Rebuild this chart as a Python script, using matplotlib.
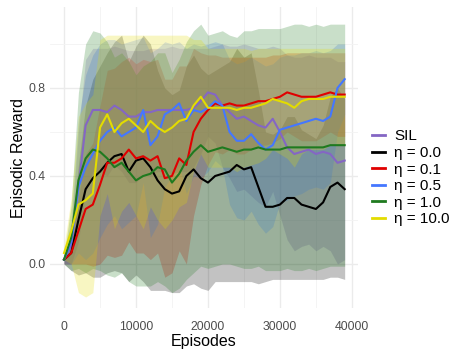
import numpy as np
import matplotlib
matplotlib.use('Agg')
import matplotlib.pyplot as plt
from matplotlib.lines import Line2D
from matplotlib.ticker import MultipleLocator

plt.rcParams['font.family'] = ['Liberation Sans', 'DejaVu Sans']

episodes = np.arange(0, 40000, 1000)

# mean episodic reward, read every 1000 episodes
sil = [0.02, 0.08, 0.35, 0.63, 0.70, 0.70, 0.69, 0.72, 0.70, 0.67,
       0.67, 0.69, 0.69, 0.70, 0.70, 0.70, 0.70, 0.70, 0.71, 0.74,
       0.78, 0.77, 0.72, 0.69, 0.66, 0.67, 0.65, 0.63, 0.62, 0.66,
       0.60, 0.53, 0.50, 0.51, 0.52, 0.50, 0.51, 0.50, 0.46, 0.47]
eta_00 = [0.02, 0.05, 0.20, 0.34, 0.39, 0.42, 0.46, 0.49, 0.50, 0.42,
          0.47, 0.48, 0.44, 0.38, 0.34, 0.32, 0.33, 0.40, 0.43, 0.39,
          0.37, 0.40, 0.41, 0.42, 0.45, 0.43, 0.44, 0.35, 0.26, 0.26,
          0.27, 0.30, 0.30, 0.27, 0.26, 0.25, 0.28, 0.35, 0.37, 0.34]
eta_01 = [0.02, 0.05, 0.15, 0.25, 0.27, 0.36, 0.46, 0.46, 0.48, 0.52,
          0.48, 0.49, 0.47, 0.49, 0.39, 0.40, 0.48, 0.45, 0.60, 0.66,
          0.70, 0.73, 0.72, 0.73, 0.72, 0.72, 0.73, 0.74, 0.74, 0.75,
          0.76, 0.78, 0.77, 0.76, 0.76, 0.76, 0.77, 0.78, 0.77, 0.77]
eta_05 = [0.02, 0.10, 0.35, 0.44, 0.50, 0.56, 0.60, 0.62, 0.58, 0.60,
          0.62, 0.70, 0.54, 0.58, 0.68, 0.70, 0.73, 0.65, 0.70, 0.69,
          0.71, 0.74, 0.72, 0.60, 0.56, 0.56, 0.59, 0.55, 0.52, 0.54,
          0.61, 0.62, 0.63, 0.64, 0.65, 0.66, 0.65, 0.67, 0.80, 0.84]
eta_10 = [0.02, 0.12, 0.38, 0.48, 0.52, 0.51, 0.48, 0.44, 0.46, 0.42,
          0.38, 0.40, 0.41, 0.44, 0.43, 0.37, 0.41, 0.47, 0.51, 0.54,
          0.51, 0.52, 0.53, 0.52, 0.51, 0.52, 0.52, 0.53, 0.52, 0.52,
          0.52, 0.53, 0.53, 0.53, 0.53, 0.53, 0.53, 0.54, 0.54, 0.54]
eta_100 = [0.05, 0.15, 0.27, 0.29, 0.32, 0.62, 0.68, 0.60, 0.64, 0.66,
           0.63, 0.60, 0.65, 0.62, 0.60, 0.62, 0.65, 0.66, 0.72, 0.76,
           0.71, 0.71, 0.71, 0.71, 0.70, 0.71, 0.71, 0.72, 0.73, 0.75,
           0.74, 0.73, 0.71, 0.74, 0.75, 0.75, 0.75, 0.76, 0.76, 0.76]

# standard deviation across runs (ribbon half-width)
sil_sd = [0.02, 0.08, 0.25, 0.30, 0.28, 0.28, 0.29, 0.27, 0.28, 0.30,
          0.30, 0.28, 0.29, 0.28, 0.28, 0.29, 0.28, 0.28, 0.27, 0.24,
          0.20, 0.22, 0.28, 0.30, 0.33, 0.33, 0.34, 0.35, 0.36, 0.33,
          0.38, 0.42, 0.44, 0.43, 0.43, 0.44, 0.43, 0.44, 0.46, 0.45]
eta_00_sd = [0.02, 0.08, 0.25, 0.38, 0.45, 0.48, 0.50, 0.52, 0.54, 0.50,
             0.52, 0.56, 0.56, 0.50, 0.46, 0.45, 0.46, 0.50, 0.52, 0.50,
             0.49, 0.48, 0.49, 0.50, 0.53, 0.51, 0.52, 0.44, 0.34, 0.33,
             0.34, 0.37, 0.37, 0.34, 0.33, 0.32, 0.35, 0.41, 0.43, 0.41]
eta_01_sd = [0.02, 0.05, 0.15, 0.25, 0.28, 0.36, 0.42, 0.43, 0.44, 0.42,
             0.43, 0.44, 0.45, 0.44, 0.45, 0.44, 0.42, 0.45, 0.38, 0.30,
             0.25, 0.22, 0.22, 0.21, 0.22, 0.22, 0.21, 0.20, 0.20, 0.20,
             0.19, 0.18, 0.19, 0.20, 0.20, 0.20, 0.19, 0.18, 0.19, 0.19]
eta_05_sd = [0.02, 0.10, 0.30, 0.42, 0.45, 0.44, 0.42, 0.40, 0.42, 0.41,
             0.40, 0.33, 0.42, 0.40, 0.33, 0.30, 0.28, 0.33, 0.30, 0.30,
             0.29, 0.27, 0.28, 0.33, 0.35, 0.36, 0.35, 0.37, 0.38, 0.37,
             0.33, 0.33, 0.32, 0.32, 0.31, 0.31, 0.31, 0.30, 0.20, 0.16]
eta_10_sd = [0.02, 0.15, 0.40, 0.52, 0.54, 0.54, 0.53, 0.50, 0.50, 0.50,
             0.48, 0.50, 0.51, 0.52, 0.53, 0.50, 0.52, 0.54, 0.55, 0.55,
             0.53, 0.53, 0.53, 0.52, 0.52, 0.54, 0.54, 0.54, 0.55, 0.55,
             0.55, 0.55, 0.56, 0.56, 0.55, 0.56, 0.55, 0.55, 0.55, 0.55]
eta_100_sd = [0.03, 0.15, 0.40, 0.44, 0.45, 0.40, 0.36, 0.44, 0.40, 0.38,
              0.41, 0.44, 0.39, 0.42, 0.44, 0.42, 0.39, 0.38, 0.30, 0.26,
              0.27, 0.27, 0.27, 0.27, 0.28, 0.27, 0.26, 0.26, 0.25, 0.23,
              0.24, 0.25, 0.27, 0.24, 0.23, 0.23, 0.23, 0.22, 0.22, 0.22]

labels = ['SIL', 'η = 0.0', 'η = 0.1', 'η = 0.5', 'η = 1.0', 'η = 10.0']
colours = ['#8466c4', '#000000', '#e00000', '#4477ff', '#1f7a1f', '#e3dc00']
means = [sil, eta_00, eta_01, eta_05, eta_10, eta_100]
sds = [sil_sd, eta_00_sd, eta_01_sd, eta_05_sd, eta_10_sd, eta_100_sd]

fig = plt.figure(figsize=(4.56, 3.53), dpi=100)
ax = fig.add_axes([50 / 456, 45 / 353, 308 / 456, 301 / 353])

# ribbons first, then the lines on top
for m, s, c in zip(means, sds, colours):
    m = np.asarray(m)
    s = np.asarray(s)
    ax.fill_between(episodes, m - s, m + s, color=c, alpha=0.24, lw=0)
for m, c in zip(means, colours):
    ax.plot(episodes, m, color=c, lw=1.5, solid_joinstyle='round')

ax.set_xlim(-1950, 40850)
ax.set_ylim(-0.2, 1.168)
ax.xaxis.set_major_locator(MultipleLocator(10000))
ax.xaxis.set_minor_locator(MultipleLocator(5000))
ax.yaxis.set_major_locator(MultipleLocator(0.4))
ax.yaxis.set_minor_locator(MultipleLocator(0.2))
ax.set_yticks([0.0, 0.4, 0.8])
ax.set_yticklabels(['0.0', '0.4', '0.8'])
ax.grid(which='major', color='#ebebeb', lw=1.0)
ax.grid(which='minor', color='#f3f3f3', lw=0.6)
ax.set_axisbelow(True)
for sp in ax.spines.values():
    sp.set_visible(False)
ax.tick_params(which='both', length=0, labelsize=8.8, labelcolor='#4d4d4d')
ax.tick_params(axis='x', pad=9)
ax.tick_params(axis='y', pad=3)

ax.set_xlabel('Episodes', fontsize=11.5, labelpad=1)
ax.set_ylabel('Episodic Reward', fontsize=11.5, labelpad=2)

handles = [Line2D([], [], color=c, lw=2) for c in colours]
fig.legend(handles, labels, loc='center left', bbox_to_anchor=(372 / 456, 0.496),
           frameon=False, fontsize=11, handlelength=0.85, handletextpad=0.6,
           labelspacing=0.17, borderaxespad=0, borderpad=0)

fig.savefig('out.png', dpi=100)
